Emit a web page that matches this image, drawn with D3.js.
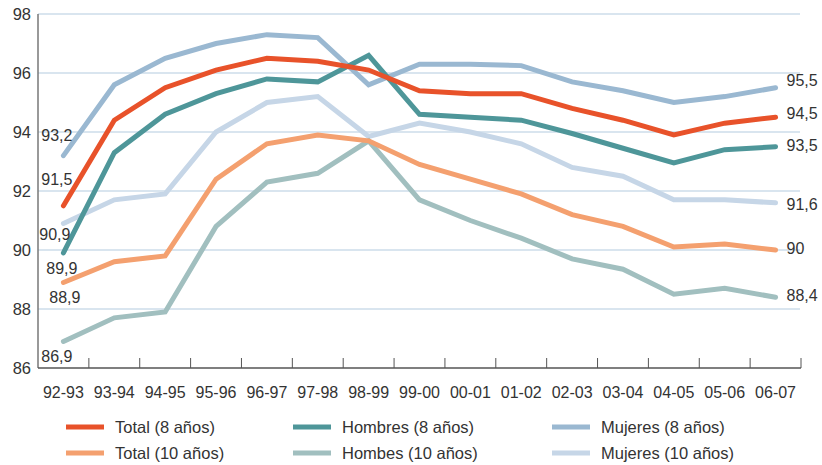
<!DOCTYPE html>
<html>
<head>
<meta charset="utf-8">
<script src="https://cdn.jsdelivr.net/npm/d3@7"></script>
<style>
  html, body { margin: 0; padding: 0; background: #fff; }
  svg { display: block; font-family: "Liberation Sans", Arial, Helvetica, sans-serif; }
</style>
</head>
<body>
<svg id="chart" width="822" height="465"></svg>
<script>
const categories = ["92-93","93-94","94-95","95-96","96-97","97-98","98-99","99-00","00-01","01-02","02-03","03-04","04-05","05-06","06-07"];

const total8    = [91.5, 94.4, 95.5, 96.1, 96.5, 96.4, 96.1, 95.4, 95.3, 95.3, 94.8, 94.4, 93.9, 94.3, 94.5];
const hombres8  = [89.9, 93.3, 94.6, 95.3, 95.8, 95.7, 96.6, 94.6, 94.5, 94.4, 93.95, 93.45, 92.95, 93.4, 93.5];
const mujeres8  = [93.2, 95.6, 96.5, 97.0, 97.3, 97.2, 95.6, 96.3, 96.3, 96.25, 95.7, 95.4, 95.0, 95.2, 95.5];
const total10   = [88.9, 89.6, 89.8, 92.4, 93.6, 93.9, 93.7, 92.9, 92.4, 91.9, 91.2, 90.8, 90.1, 90.2, 90.0];
const hombres10 = [86.9, 87.7, 87.9, 90.8, 92.3, 92.6, 93.7, 91.7, 91.0, 90.4, 89.7, 89.35, 88.5, 88.7, 88.4];
const mujeres10 = [90.9, 91.7, 91.9, 94.0, 95.0, 95.2, 93.85, 94.3, 94.0, 93.6, 92.8, 92.5, 91.7, 91.7, 91.6];

const seriesNames = ["Total (8 años)", "Hombres (8 años)", "Mujeres (8 años)", "Total (10 años)", "Hombes (10 años)", "Mujeres (10 años)"];
const yTicks = [86, 88, 90, 92, 94, 96, 98];

const colors = ["#e8522a", "#4e9699", "#9ab8d1", "#f4a06f", "#a1bfbf", "#c6d6e7"];
const seriesValues = [total8, hombres8, mujeres8, total10, hombres10, mujeres10];
const series = seriesNames.map((name, i) => ({ name, values: seriesValues[i], color: colors[i] }));

const drawOrder = [5, 4, 3, 2, 1, 0];

const svg = d3.select("#chart");
const pLeft = 38, pRight = 801, pTop = 14, pBottom = 368;

const x = d3.scaleBand().domain(categories).range([pLeft, pRight]).paddingInner(0).paddingOuter(0);
const xc = d => x(d) + x.bandwidth() / 2;
const y = d3.scaleLinear().domain([86, 98]).range([pBottom, pTop]);

const textColor = "#333";
const fmt = v => (Math.round(v * 10) / 10).toString().replace(".", ",");

// gridlines
svg.append("g")
  .selectAll("line")
  .data(yTicks.filter(t => t !== 86))
  .join("line")
  .attr("x1", pLeft).attr("x2", pRight - 1)
  .attr("y1", d => y(d)).attr("y2", d => y(d))
  .attr("stroke", "#b3cbdf").attr("stroke-width", 1);

// y axis labels
svg.append("g")
  .selectAll("text")
  .data(yTicks)
  .join("text")
  .attr("x", 31).attr("y", d => y(d))
  .attr("dy", "0.36em")
  .attr("text-anchor", "end")
  .attr("font-size", 16.5)
  .attr("fill", textColor)
  .text(d => d);

// axis lines
svg.append("line").attr("x1", pLeft).attr("x2", pLeft).attr("y1", pTop).attr("y2", pBottom)
  .attr("stroke", "#777").attr("stroke-width", 1.5);
svg.append("line").attr("x1", pLeft).attr("x2", pRight).attr("y1", pBottom).attr("y2", pBottom)
  .attr("stroke", "#555").attr("stroke-width", 1.5);

// x ticks (band boundaries), pointing up
const boundaries = categories.map(c => x(c) + x.bandwidth());
svg.append("g").selectAll("line").data(boundaries).join("line")
  .attr("x1", d => d).attr("x2", d => d)
  .attr("y1", pBottom).attr("y2", pBottom - 10)
  .attr("stroke", "#555").attr("stroke-width", 1);

// x labels
svg.append("g").selectAll("text").data(categories).join("text")
  .attr("x", d => xc(d)).attr("y", 392)
  .attr("dy", "0.36em")
  .attr("text-anchor", "middle")
  .attr("font-size", 16)
  .attr("fill", textColor)
  .text(d => d);

// lines
const line = d3.line().x((d, i) => xc(categories[i])).y(d => y(d)).curve(d3.curveLinear);
svg.append("g").selectAll("path").data(drawOrder.map(i => series[i])).join("path")
  .attr("d", d => line(d.values))
  .attr("fill", "none")
  .attr("stroke", d => d.color)
  .attr("stroke-width", 5)
  .attr("stroke-linejoin", "miter")
  .attr("stroke-linecap", "round");

// start labels (left of first point)
const startOffsets = [
  { dx: 9, dy: -27 },
  { dx: 14, dy: 15 },
  { dx: 9, dy: -20 },
  { dx: 17, dy: 15 },
  { dx: 9, dy: 15 },
  { dx: 7, dy: 11 }
];
svg.append("g").selectAll("text").data(series).join("text")
  .attr("x", (d, i) => xc(categories[0]) + startOffsets[i].dx)
  .attr("y", (d, i) => y(d.values[0]) + startOffsets[i].dy)
  .attr("dy", "0.36em")
  .attr("text-anchor", "end")
  .attr("font-size", 16)
  .attr("fill", textColor)
  .text(d => fmt(d.values[0]));

// end labels (right of last point)
const endDy = [-4, -2, -8, -2, -2, 1];
const lastIdx = categories.length - 1;
svg.append("g").selectAll("text").data(series).join("text")
  .attr("x", xc(categories[lastIdx]) + 11)
  .attr("y", (d, i) => y(d.values[lastIdx]) + endDy[i])
  .attr("dy", "0.36em")
  .attr("text-anchor", "start")
  .attr("font-size", 16)
  .attr("fill", textColor)
  .text(d => fmt(d.values[lastIdx]));

// legend
const legendCols = [66, 293, 552];
const legendRows = [427, 453];
const lg = svg.append("g").selectAll("g").data(series).join("g")
  .attr("transform", (d, i) => `translate(${legendCols[i % 3]},${legendRows[Math.floor(i / 3)]})`);
lg.append("line").attr("x1", 0).attr("x2", 38).attr("y1", 0).attr("y2", 0)
  .attr("stroke", d => d.color).attr("stroke-width", 5);
lg.append("text").attr("x", 49).attr("y", 0).attr("dy", "0.36em")
  .attr("font-size", 16.5).attr("fill", textColor)
  .text(d => d.name);
</script>
</body>
</html>
